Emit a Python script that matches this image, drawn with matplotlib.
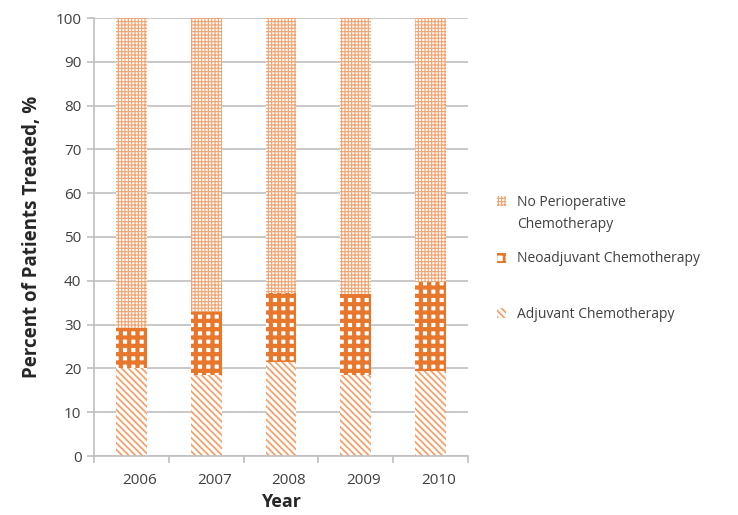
import matplotlib
matplotlib.use("Agg")
import matplotlib.pyplot as plt
import matplotlib.transforms as mtransforms
from matplotlib.patches import Rectangle
import numpy as np

plt.rcParams['font.family'] = ['Open Sans', 'DejaVu Sans']

years = ['2006', '2007', '2008', '2009', '2010']
adjuvant = [20.0, 18.5, 21.5, 18.5, 19.3]
neoadjuvant = [9.2, 14.4, 15.7, 18.6, 20.5]
no_periop = [100 - a - n for a, n in zip(adjuvant, neoadjuvant)]

orange = '#E8762B'
light = '#F3A26E'
grid_c = '#BFBFBF'
text_c = '#404040'

W, H = 738, 515
fig = plt.figure(figsize=(W / 100, H / 100), dpi=100)
ax = fig.add_axes([94 / W, 1 - 456 / H, (468 - 94) / W, (456 - 18) / H])

x = np.arange(len(years))
w = 0.41

# (hatch, colour, hatch linewidth) for each series
styles = {
    'adj': ('\\\\\\\\\\', light, 1.3),
    'neo': ('++', orange, 3.0),
    'none': ('+++++', light, 0.8),
}

def hatched_bars(vals, bottom, key):
    hatch, col, lw = styles[key]
    bars = ax.bar(x, vals, w, bottom=bottom, color='white', edgecolor=col,
                  hatch=hatch, linewidth=0, zorder=2)
    for b in bars:
        b.set_hatch_linewidth(lw)
    return bars

hatched_bars(adjuvant, 0, 'adj')
hatched_bars(neoadjuvant, adjuvant, 'neo')
bottom3 = [a + n for a, n in zip(adjuvant, neoadjuvant)]
hatched_bars(no_periop, bottom3, 'none')

ax.set_ylim(0, 100)
ax.set_xlim(-0.5, len(years) - 0.5)
ax.set_yticks(range(0, 101, 10))
ax.yaxis.grid(True, color=grid_c, linewidth=1.2, zorder=0)
ax.set_axisbelow(True)

# category ticks sit at the boundaries, labels under each bar
ax.set_xticks(np.arange(-0.5, len(years), 1.0))
ax.set_xticklabels([])
ax.set_xticks(x, minor=True)
ax.set_xticklabels(years, minor=True)
ax.tick_params(axis='x', which='minor', length=0, pad=12, labelsize=11, labelcolor=text_c)
ax.tick_params(axis='x', which='major', length=5, color=grid_c, width=1.2)
ax.tick_params(axis='y', length=5, color=grid_c, width=1.2, labelsize=11, labelcolor=text_c, pad=4)
offset = mtransforms.ScaledTranslation(8 / 100, 0, fig.dpi_scale_trans)
for lbl in ax.get_xticklabels(minor=True):
    lbl.set_transform(lbl.get_transform() + offset)

for side in ['top', 'right']:
    ax.spines[side].set_visible(False)
for side in ['left', 'bottom']:
    ax.spines[side].set_color(grid_c)
    ax.spines[side].set_linewidth(1.2)

ax.set_ylabel('Percent of Patients Treated, %', fontsize=13.5, fontweight='bold', color='#262626', labelpad=10)
ax.set_xlabel('Year', fontsize=13, fontweight='bold', color='#262626', labelpad=4)

# legend built by hand: swatch + label(s) at fixed pixel rows
entries = [
    ('none', ['No Perioperative', 'Chemotherapy'], 201),
    ('neo', ['Neoadjuvant Chemotherapy'], 258),
    ('adj', ['Adjuvant Chemotherapy'], 313),
]
for key, lines, ypx in entries:
    hatch, col, lw = styles[key]
    sw = Rectangle(((497) / W, 1 - (ypx + 5) / H), 9 / W, 10 / H, transform=fig.transFigure,
                   facecolor='white', edgecolor=col, hatch=hatch, linewidth=0)
    sw.set_hatch_linewidth(min(lw, 2.0))
    fig.add_artist(sw)
    for i, line in enumerate(lines):
        fig.text(517 / W, 1 - (ypx + 1 + 23 * i) / H, line, fontsize=10, color=text_c,
                 ha='left', va='center')

fig.savefig('out.png', dpi=100)
